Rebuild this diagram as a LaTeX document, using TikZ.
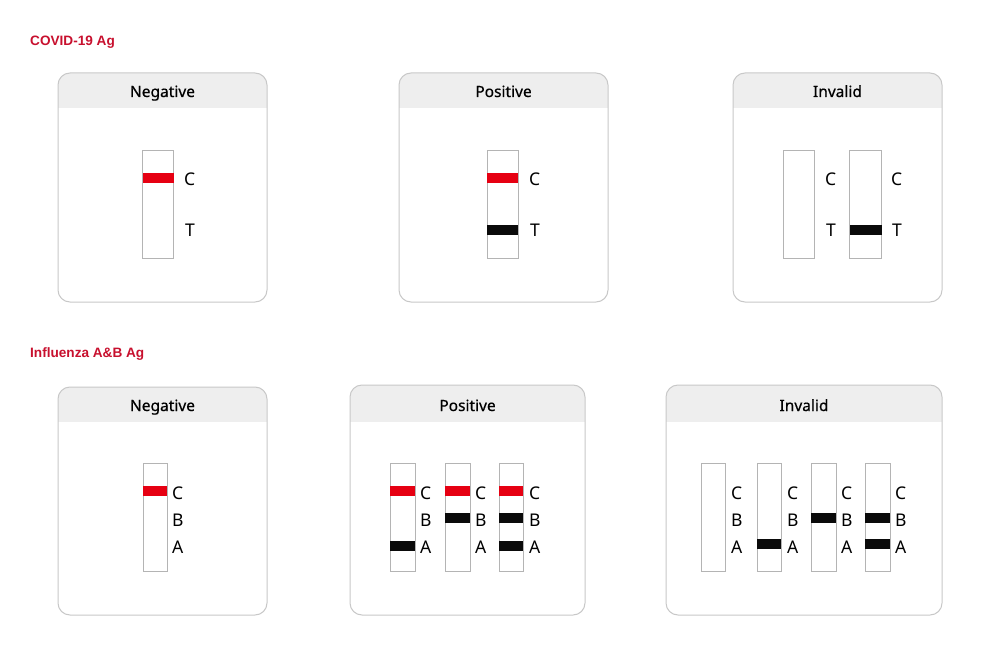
\documentclass[tikz,border=0pt]{standalone}
\usepackage{fontspec}
\setmainfont{Noto Sans}
\newfontfamily\hdfont{Liberation Sans}
\newfontfamily\ttlfont{Noto Sans}[FakeBold=0.6]
\definecolor{hdred}{HTML}{C8102E}
\definecolor{bandred}{HTML}{E60012}
\definecolor{panelgray}{HTML}{C8C8C8}
\definecolor{hdrfill}{HTML}{EEEEEE}
\definecolor{stripgray}{HTML}{B4B4B4}
\definecolor{bandblack}{HTML}{0A0A0A}
\tikzset{
  panel/.style={draw=panelgray, line width=1pt, rounded corners=12pt},
  heading/.style={anchor=west, text=hdred, font=\hdfont\bfseries\fontsize{13.6}{15}\selectfont, inner sep=0pt},
  ptitle/.style={anchor=base, font=\ttlfont\fontsize{15.5}{18}\selectfont, inner sep=0pt},
  stripbox/.style={draw=stripgray, line width=0.9pt, fill=white, inner sep=0pt, outer sep=0pt, minimum height=108pt},
  band/.style={fill=#1, inner sep=0pt, outer sep=0pt, minimum height=10pt},
  lab/.style={anchor=base west, font=\fontsize{17.5}{19}\selectfont, inner sep=0pt}
}
% \drawpanel{name}{x1}{y1}{x2}{y2}{header bottom}{title}
\newcommand\drawpanel[7]{%
  \begin{scope}
    \clip[rounded corners=12pt] (#2,#3) rectangle (#4,#5);
    \fill[white] (#2,#3) rectangle (#4,#5);
    \fill[hdrfill] (#2,#3) rectangle (#4,#6);
  \end{scope}
  \draw[panel] (#2,#3) rectangle (#4,#5);
  \node[ptitle] (#1) at ({(#2+#4)/2},{#6-11}) {#7};
}
\begin{document}
\begin{tikzpicture}[x=1pt,y=-1pt]
\useasboundingbox[fill=white] (0,0) rectangle (1000,658);

\node[heading] (h1) at (30,42) {COVID-19 Ag};
\node[heading] (h2) at (30,354) {Influenza A\&B Ag};

% ---------- COVID row ----------
\drawpanel{t1}{58}{73}{267}{302}{108}{Negative}
\drawpanel{t2}{399}{73}{608}{302}{108}{Positive}
\drawpanel{t3}{733}{73}{942}{302}{108}{Invalid}

% negative
\node[stripbox, minimum width=31pt] (s11) at (158,204) {};
\node[band=bandred, minimum width=31pt] (b11c) at (158,178) {};
\node[lab] (l11c) at (184,185) {C};
\node[lab] (l11t) at (185,236) {T};

% positive
\node[stripbox, minimum width=31pt] (s21) at (502.5,204) {};
\node[band=bandred, minimum width=31pt] (b21c) at (502.5,178) {};
\node[band=bandblack, minimum width=31pt] (b21t) at (502.5,230) {};
\node[lab] (l21c) at (529,185) {C};
\node[lab] (l21t) at (530,236) {T};

% invalid
\node[stripbox, minimum width=31pt] (s31) at (798.5,204) {};
\node[lab] (l31c) at (825,185) {C};
\node[lab] (l31t) at (826,236) {T};
\node[stripbox, minimum width=32pt] (s32) at (865.5,204) {};
\node[band=bandblack, minimum width=32pt] (b32t) at (865.5,230) {};
\node[lab] (l32c) at (891,185) {C};
\node[lab] (l32t) at (892,236) {T};

% ---------- Influenza row ----------
\drawpanel{u1}{58}{387}{267}{615}{422}{Negative}
\drawpanel{u2}{350}{385}{585}{615}{422}{Positive}
\drawpanel{u3}{666}{385}{942}{615}{422}{Invalid}

% negative
\node[stripbox, minimum width=24pt] (v11) at (155,517) {};
\node[band=bandred, minimum width=24pt] (w11c) at (155,491) {};
\node[lab] (m11c) at (172,499) {C};
\node[lab] (m11b) at (172,526) {B};
\node[lab] (m11a) at (172,553) {A};

% positive
\node[stripbox, minimum width=25pt] (v21) at (402.5,517) {};
\node[band=bandred, minimum width=25pt] (w21c) at (402.5,491) {};
\node[band=bandblack, minimum width=25pt] (w21a) at (402.5,546) {};
\node[lab] (m21c) at (420,499) {C};
\node[lab] (m21b) at (420,526) {B};
\node[lab] (m21a) at (420,553) {A};

\node[stripbox, minimum width=25pt] (v22) at (457.5,517) {};
\node[band=bandred, minimum width=25pt] (w22c) at (457.5,491) {};
\node[band=bandblack, minimum width=25pt] (w22b) at (457.5,518) {};
\node[lab] (m22c) at (475,499) {C};
\node[lab] (m22b) at (475,526) {B};
\node[lab] (m22a) at (475,553) {A};

\node[stripbox, minimum width=24pt] (v23) at (511,517) {};
\node[band=bandred, minimum width=24pt] (w23c) at (511,491) {};
\node[band=bandblack, minimum width=24pt] (w23b) at (511,518) {};
\node[band=bandblack, minimum width=24pt] (w23a) at (511,546) {};
\node[lab] (m23c) at (529,499) {C};
\node[lab] (m23b) at (529,526) {B};
\node[lab] (m23a) at (529,553) {A};

% invalid
\node[stripbox, minimum width=24pt] (v31) at (713,517) {};
\node[lab] (m31c) at (731,499) {C};
\node[lab] (m31b) at (731,526) {B};
\node[lab] (m31a) at (731,553) {A};

\node[stripbox, minimum width=24pt] (v32) at (769,517) {};
\node[band=bandblack, minimum width=24pt] (w32a) at (769,544) {};
\node[lab] (m32c) at (787,499) {C};
\node[lab] (m32b) at (787,526) {B};
\node[lab] (m32a) at (787,553) {A};

\node[stripbox, minimum width=25pt] (v33) at (823.5,517) {};
\node[band=bandblack, minimum width=25pt] (w33b) at (823.5,518) {};
\node[lab] (m33c) at (841,499) {C};
\node[lab] (m33b) at (841,526) {B};
\node[lab] (m33a) at (841,553) {A};

\node[stripbox, minimum width=25pt] (v34) at (877.5,517) {};
\node[band=bandblack, minimum width=25pt] (w34b) at (877.5,518) {};
\node[band=bandblack, minimum width=25pt] (w34a) at (877.5,544) {};
\node[lab] (m34c) at (895,499) {C};
\node[lab] (m34b) at (895,526) {B};
\node[lab] (m34a) at (895,553) {A};

\end{tikzpicture}
\end{document}
